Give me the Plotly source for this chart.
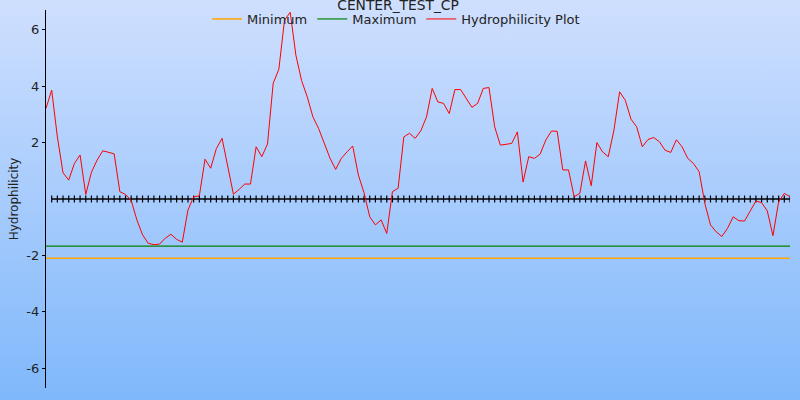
import base64
import plotly.graph_objects as go

title_text = "CENTER_TEST_CP"
y_title = "Hydrophilicity"
series_names = ["Minimum", "Maximum", "Hydrophilicity Plot"]

hydrophilicity = [
    3.21, 3.86, 2.2, 0.93, 0.67, 1.26, 1.56, 0.16, 0.95, 1.38,
    1.71, 1.65, 1.6, 0.26, 0.16, -0.05, -0.74, -1.27, -1.57, -1.62,
    -1.6, -1.39, -1.25, -1.43, -1.53, -0.39, 0.08, 0.11, 1.41, 1.09,
    1.79, 2.15, 1.15, 0.17, 0.34, 0.53, 0.53, 1.85, 1.5, 1.95,
    4.1, 4.6, 6.34, 6.62, 5.1, 4.2, 3.62, 2.91, 2.5, 1.97,
    1.45, 1.05, 1.44, 1.67, 1.88, 0.85, 0.22, -0.63, -0.92, -0.74,
    -1.22, 0.26, 0.38, 2.2, 2.33, 2.15, 2.42, 2.91, 3.92, 3.44,
    3.39, 3.03, 3.88, 3.88, 3.56, 3.25, 3.39, 3.92, 3.95, 2.56,
    1.91, 1.94, 1.97, 2.38, 0.6, 1.5, 1.44, 1.59, 2.09, 2.41,
    2.4, 1.03, 1.03, 0.08, 0.2, 1.35, 0.47, 2.0, 1.67, 1.5,
    2.44, 3.8, 3.5, 2.83, 2.56, 1.85, 2.11, 2.18, 2.03, 1.73,
    1.65, 2.1, 1.85, 1.44, 1.26, 0.97, -0.15, -0.92, -1.16, -1.33,
    -1.04, -0.63, -0.77, -0.78, -0.45, -0.07, -0.13, -0.42, -1.3, -0.1,
    0.2, 0.08,
]
minimum_value = -2.1
maximum_value = -1.67
y_tick_values = [-6, -4, -2, 2, 4, 6]
y_tick_labels = ["-6", "-4", "-2", "2", "4", "6"]

positions = list(range(len(hydrophilicity)))
x_first, x_last = positions[0], positions[-1]

FONT = "DejaVu Sans"

fig = go.Figure()
fig.add_trace(go.Scatter(
    x=[x_first, x_last], y=[minimum_value, minimum_value], mode="lines",
    name=series_names[0], line=dict(color="#FFA500", width=1.5),
))
fig.add_trace(go.Scatter(
    x=[x_first, x_last], y=[maximum_value, maximum_value], mode="lines",
    name=series_names[1], line=dict(color="#008000", width=1.2),
))
# zero baseline with a tick mark at every position
fig.add_trace(go.Scatter(
    x=positions[1:], y=[0] * (len(positions) - 1), mode="lines+markers",
    showlegend=False, hoverinfo="skip",
    line=dict(color="black", width=1.3),
    marker=dict(symbol="line-ns", size=5, line=dict(color="black", width=1.2)),
))
fig.add_trace(go.Scatter(
    x=positions, y=hydrophilicity, mode="lines",
    name=series_names[2], line=dict(color="#FF0000", width=1),
))

svg = ('<svg xmlns="http://www.w3.org/2000/svg" width="800" height="400">'
       '<defs><linearGradient id="g" x1="0" y1="0" x2="0" y2="1">'
       '<stop offset="0" stop-color="#CFDFFE"/><stop offset="1" stop-color="#7FB8FB"/>'
       '</linearGradient></defs><rect width="800" height="400" fill="url(#g)"/></svg>')
src = "data:image/svg+xml;base64," + base64.b64encode(svg.encode()).decode()

W, H = 800, 400
plot_left, plot_right, plot_top, plot_bottom = 46, 790, 10, 388

fig.update_layout(
    width=W, height=H,
    margin=dict(l=0, r=0, t=0, b=0, pad=0),
    paper_bgcolor="rgba(0,0,0,0)",
    plot_bgcolor="rgba(0,0,0,0)",
    font=dict(family=FONT, size=13, color="#222"),
    title=dict(text=title_text, x=398 / W, xanchor="center", y=1 - 5 / H,
               yanchor="middle", font=dict(family=FONT, size=13.8, color="#222")),
    legend=dict(orientation="h", x=396 / W, xanchor="center", y=1 - 4 / H,
                yanchor="top", bgcolor="rgba(0,0,0,0)",
                font=dict(family=FONT, size=13, color="#222"),
                itemwidth=30, tracegroupgap=0),
    showlegend=True,
    images=[dict(source=src, xref="paper", yref="paper",
                 x=0, y=1, sizex=1, sizey=1,
                 xanchor="left", yanchor="top", sizing="stretch",
                 layer="below", opacity=1)],
    xaxis=dict(range=[x_first, x_last], visible=False, showgrid=False,
               zeroline=False, automargin=False,
               domain=[plot_left / W, plot_right / W]),
    yaxis=dict(range=[-6.7, 6.7], tickvals=y_tick_values, ticktext=y_tick_labels,
               domain=[1 - plot_bottom / H, 1 - plot_top / H], automargin=False,
               showgrid=False, zeroline=False, showline=True, linecolor="black",
               linewidth=1.3, ticks="outside", ticklen=3, tickcolor="black",
               ticklabelstandoff=0,
               tickfont=dict(family=FONT, size=13, color="#222"),
               title=dict(text=y_title, font=dict(family=FONT, size=12, color="#222"),
                          standoff=5)),
)

fig.write_html("out.html", post_script="document.body.style.margin='0';",
               config={"displayModeBar": False})
